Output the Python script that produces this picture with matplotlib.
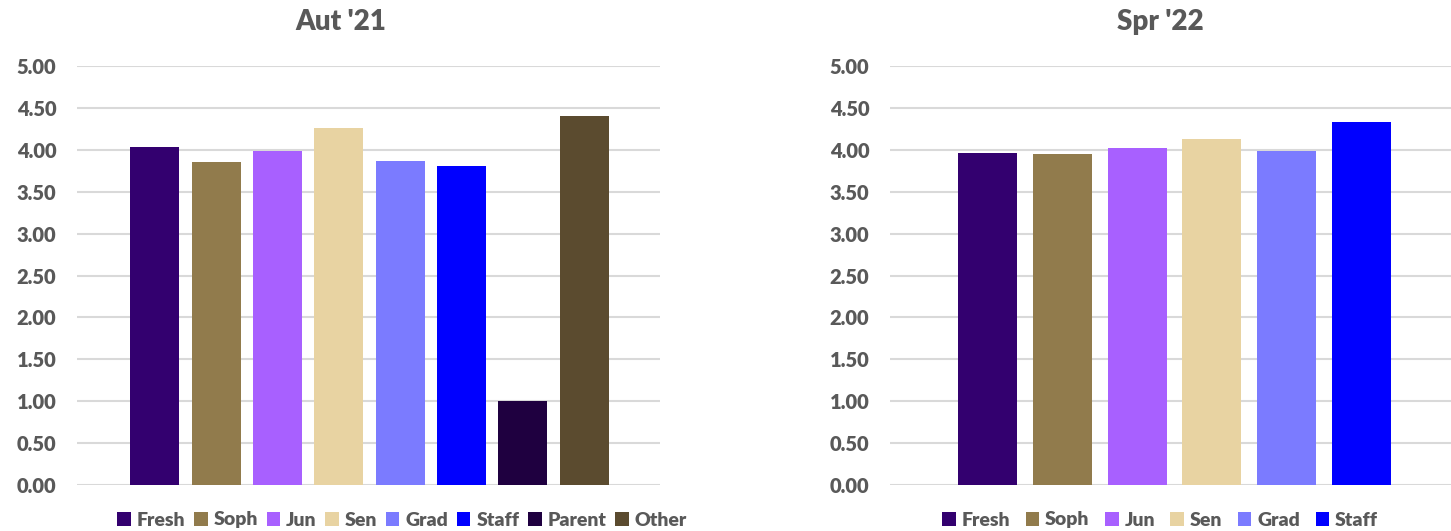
import matplotlib.pyplot as plt

plt.rcParams['font.family'] = ['Lato', 'DejaVu Sans']

# data
groups_aut = ["Fresh", "Soph", "Jun", "Sen", "Grad", "Staff", "Parent", "Other"]
scores_aut = [4.03, 3.85, 3.99, 4.26, 3.87, 3.81, 1.00, 4.40]

groups_spr = ["Fresh", "Soph", "Jun", "Sen", "Grad", "Staff"]
scores_spr = [3.96, 3.95, 4.02, 4.13, 3.99, 4.33]

colors = {
    "Fresh": "#33006F",
    "Soph": "#917B4C",
    "Jun": "#A860FF",
    "Sen": "#E8D3A2",
    "Grad": "#7B7BFF",
    "Staff": "#0000FF",
    "Parent": "#1F0040",
    "Other": "#5B4B2F",
}

yticks = [0, 0.5, 1, 1.5, 2, 2.5, 3, 3.5, 4, 4.5, 5]
text_gray = "#595959"

fig = plt.figure(figsize=(14.51, 5.31), dpi=100)

ax1 = fig.add_axes([0.0531, 0.0866, 0.4018, 0.7891])
ax2 = fig.add_axes([0.6134, 0.0866, 0.3866, 0.7891])


def draw_panel(ax, groups, scores, xlim, width):
    for i, (g, v) in enumerate(zip(groups, scores)):
        ax.bar(i, v, width=width, color=colors[g], label=g, zorder=3)
    ax.set_ylim(0, 5)
    ax.set_xlim(*xlim)
    ax.set_yticks(yticks)
    ax.set_yticklabels([f"{t:.2f}" for t in yticks], fontsize=14.5,
                       fontweight='heavy', color=text_gray)
    ax.set_xticks([])
    ax.grid(axis='y', color='#D9D9D9', linewidth=1.5, zorder=0)
    ax.tick_params(axis='y', length=0, pad=15)
    for s in ax.spines.values():
        s.set_visible(False)


draw_panel(ax1, groups_aut, scores_aut, (-1.27, 8.24), 0.8)
draw_panel(ax2, groups_spr, scores_spr, (-1.31, 6.2), 0.79)

fig.text(341 / 1451, 1 - 22 / 531, "Aut '21", ha='center', va='center',
         fontsize=20, fontweight='heavy', color=text_gray)
fig.text(1160 / 1451, 1 - 22 / 531, "Spr '22", ha='center', va='center',
         fontsize=20, fontweight='heavy', color=text_gray)

h1, l1 = ax1.get_legend_handles_labels()
h2, l2 = ax2.get_legend_handles_labels()
legend_style = dict(loc='center', ncol=8, frameon=False, handlelength=0.7,
                    handleheight=0.7, handletextpad=0.3, labelcolor=text_gray,
                    prop={'size': 14, 'weight': 'heavy'})
fig.legend(h1, l1, bbox_to_anchor=(402 / 1451, 1 - 520 / 531),
           columnspacing=0.45, **legend_style)
fig.legend(h2, l2, bbox_to_anchor=(1160 / 1451, 1 - 520 / 531),
           columnspacing=0.8, **legend_style)

plt.savefig('out.png', dpi=100)
